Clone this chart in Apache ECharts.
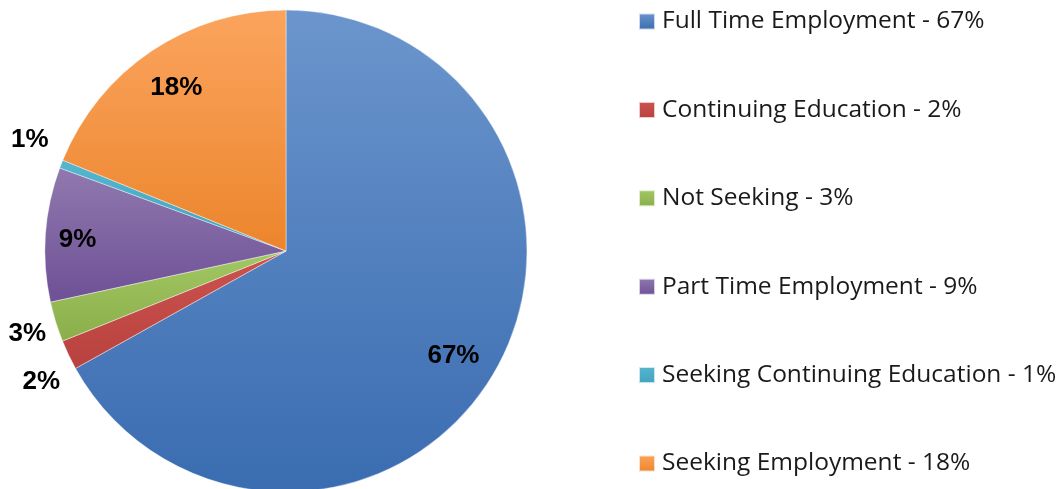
<!DOCTYPE html>
<html>
<head>
<meta charset="utf-8">
<script src="https://cdn.jsdelivr.net/npm/echarts@6/dist/echarts.min.js"></script>
<style>
  html, body { margin: 0; padding: 0; background: #fff; }
  #chart { width: 1060px; height: 489px; }
</style>
</head>
<body>
<div id="chart"></div>
<script>
  // categories, clockwise from 12 o'clock
  var categories = ['Full Time Employment', 'Continuing Education', 'Not Seeking',
    'Part Time Employment', 'Seeking Continuing Education', 'Seeking Employment'];
  var shares = [66.9, 2.0, 2.7, 9.0, 0.55, 18.85];
  var pctLabels = ['67%', '2%', '3%', '9%', '1%', '18%'];
  // which labels sit inside the pie, which outside
  var insideLabel = [true, false, false, true, false, true];

  // light (top) / dark (bottom) for each slice
  var topColors = ['#6b95cc', '#cc524f', '#a2c863', '#9079ae', '#56b6cf', '#fba45e'];
  var bottomColors = ['#3a6cb1', '#b8423f', '#8aae4a', '#6e5096', '#42a2bd', '#ec852c'];
  // small nudges of the labels in px, [dx, dy]
  var labelShift = [[-5, 4], [7, 10], [8, 1], [-9, 3], [4, -11], [2, 3]];

  function grad(i) {
    return new echarts.graphic.LinearGradient(0, 0, 0, 1, [
      { offset: 0, color: topColors[i] },
      { offset: 1, color: bottomColors[i] }
    ]);
  }

  var labelFont = {
    fontFamily: 'Liberation Sans',
    fontWeight: 'bold',
    fontSize: 26,
    color: '#000'
  };

  var center = [286, 251];

  var mainData = categories.map(function (c, i) {
    return { name: c, value: shares[i], itemStyle: { color: grad(i) } };
  });

  // nudge: horizontal by padding, vertical by an empty spacer line
  function labelFor(i, show) {
    var dx = labelShift[i][0], dy = labelShift[i][1];
    var text = '{t|' + pctLabels[i] + '}';
    if (dy > 0) text = '{s| }\n' + text;
    if (dy < 0) text = text + '\n{s| }';
    return {
      show: show,
      formatter: text,
      padding: [0, dx < 0 ? -2 * dx : 0, 0, dx > 0 ? 2 * dx : 0],
      rich: {
        t: labelFont,
        s: { fontSize: 1, lineHeight: Math.abs(dy) * 2 }
      }
    };
  }

  function labelData(showInside) {
    return categories.map(function (c, i) {
      return {
        name: c + ' ',
        value: shares[i],
        label: labelFor(i, insideLabel[i] === showInside)
      };
    });
  }

  var myChart = echarts.init(document.getElementById('chart'));
  var option = {
    animation: false,
    legend: {
      data: categories,
      orient: 'vertical',
      left: 638,
      top: 9,
      padding: 0,
      itemWidth: 16,
      itemHeight: 16,
      itemGap: 63.4,
      icon: 'rect',
      formatter: function (name) {
        return name + ' - ' + pctLabels[categories.indexOf(name)];
      },
      textStyle: {
        fontFamily: 'Open Sans',
        fontSize: 24.5,
        lineHeight: 24,
        color: '#1a1a1a',
        padding: [0, 0, 0, 2]
      }
    },
    series: [
      {
        type: 'pie',
        center: center,
        radius: 241,
        startAngle: 90,
        clockwise: true,
        silent: true,
        label: { show: false },
        labelLine: { show: false },
        itemStyle: { borderColor: 'rgba(255,255,255,0.7)', borderWidth: 0.6 },
        data: mainData
      },
      {
        // invisible ring, only to place the inside labels
        type: 'pie',
        center: center,
        radius: 394,
        startAngle: 90,
        silent: true,
        itemStyle: { color: 'rgba(0,0,0,0)' },
        label: { position: 'inside' },
        labelLine: { show: false },
        emphasis: { disabled: true },
        data: labelData(true)
      },
      {
        // invisible ring, only to place the outside labels
        type: 'pie',
        center: center,
        radius: 552,
        startAngle: 90,
        silent: true,
        itemStyle: { color: 'rgba(0,0,0,0)' },
        label: { position: 'inside' },
        labelLine: { show: false },
        emphasis: { disabled: true },
        data: labelData(false)
      }
    ]
  };
  myChart.setOption(option);
</script>
</body>
</html>
